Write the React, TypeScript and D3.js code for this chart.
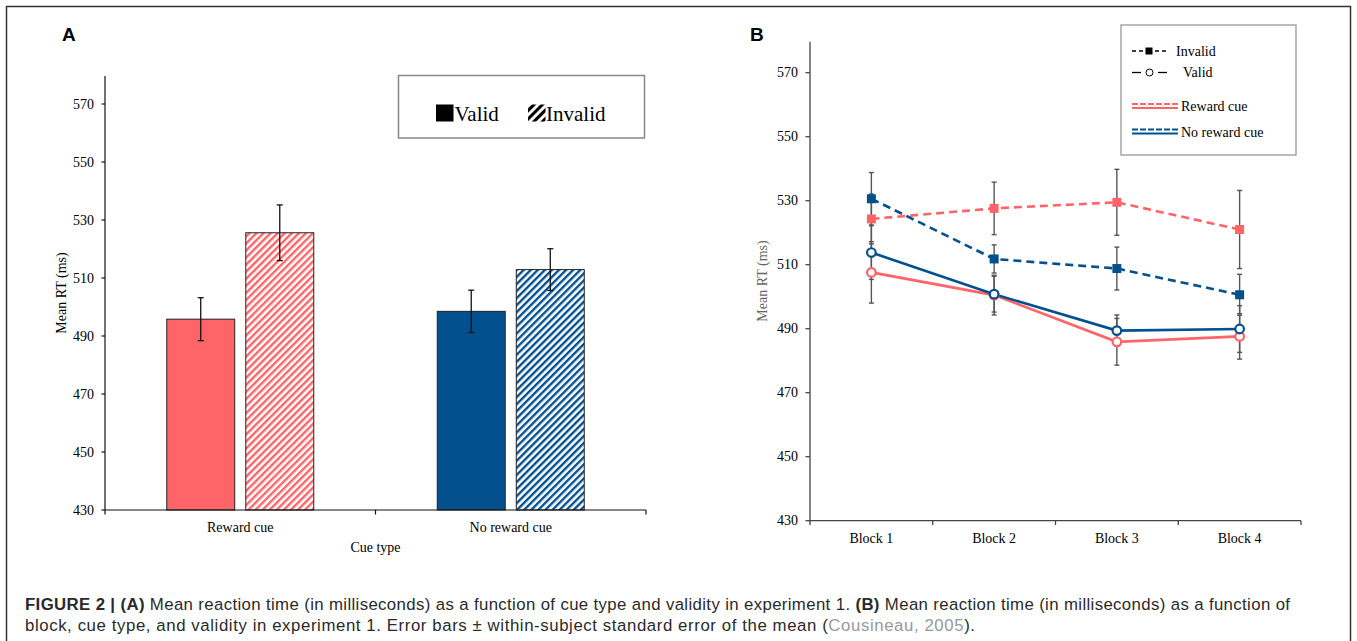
import React from "react";
import * as d3 from "d3";

// ---------- Panel A data ----------
const cueTypes = ["Reward cue", "No reward cue"];
const validity = ["Valid", "Invalid"];
const validMeans = [495.8, 498.5];
const validErr = [7.4, 7.3];
const invalidMeans = [525.6, 512.9];
const invalidErr = [9.6, 7.2];
const yTicksA = [430, 450, 470, 490, 510, 530, 550, 570];

// ---------- Panel B data ----------
const blocks = ["Block 1", "Block 2", "Block 3", "Block 4"];
const rewardInvalid = [524.3, 527.6, 529.5, 521.0];
const rewardInvalidErr = [7.8, 8.2, 10.3, 12.2];
const rewardValid = [507.6, 500.5, 485.9, 487.6];
const rewardValidErr = [9.6, 6.2, 7.3, 7.1];
const noRewardInvalid = [530.6, 511.8, 508.8, 500.6];
const noRewardInvalidErr = [8.2, 4.4, 6.7, 6.4];
const noRewardValid = [513.8, 500.8, 489.4, 489.9];
const noRewardValidErr = [8.4, 5.6, 4.9, 7.3];
const yTicksB = [430, 450, 470, 490, 510, 530, 550, 570];

const PINK = "#FF6469";
const BLUE = "#03508F";
const SERIF = "'Liberation Serif', 'Times New Roman', serif";
const SANS = "'Liberation Sans', Arial, sans-serif";

export default function App() {
  // Panel A scales
  const xA = d3.scaleBand<string>().domain(cueTypes).range([105, 646]);
  const xAin = d3
    .scaleBand<string>()
    .domain(validity)
    .range([(xA.bandwidth() - 147) / 2, (xA.bandwidth() + 147) / 2])
    .paddingInner(0.14);
  const yA = d3.scaleLinear().domain([430, 580]).range([510, 75]);

  // Panel B scales
  const xB = d3.scaleBand<string>().domain(blocks).range([810, 1301]);
  const cx = (b: string) => (xB(b) as number) + xB.bandwidth() / 2;
  const yB = d3.scaleLinear().domain([430, 580]).range([520.7, 40.7]);

  const lineGen = d3
    .line<number>()
    .x((_, i) => cx(blocks[i]))
    .y((d) => yB(d));

  const seriesB = [
    { vals: rewardInvalid, err: rewardInvalidErr, color: PINK, dashed: true },
    { vals: noRewardInvalid, err: noRewardInvalidErr, color: BLUE, dashed: true },
    { vals: rewardValid, err: rewardValidErr, color: PINK, dashed: false },
    { vals: noRewardValid, err: noRewardValidErr, color: BLUE, dashed: false },
  ];

  const barsA = cueTypes.flatMap((c, i) => [
    { cue: c, v: "Valid", mean: validMeans[i], err: validErr[i], color: i === 0 ? PINK : BLUE },
    { cue: c, v: "Invalid", mean: invalidMeans[i], err: invalidErr[i], color: i === 0 ? PINK : BLUE },
  ]);

  const xBoundsA = [...cueTypes.map((c) => xA(c) as number), 646];
  const xBoundsB = [...blocks.map((b) => xB(b) as number), 1301];

  return (
    <svg
      width={1357}
      height={641}
      style={{ position: "absolute", left: 0, top: 0, background: "#fff" }}
    >
      <defs>
        <pattern id="hatchPink" patternUnits="userSpaceOnUse" width={5} height={5} patternTransform="rotate(45)">
          <rect width={5} height={5} fill="#fff" />
          <line x1={1.2} y1={0} x2={1.2} y2={5} stroke={PINK} strokeWidth={2.4} />
        </pattern>
        <pattern id="hatchBlue" patternUnits="userSpaceOnUse" width={5} height={5} patternTransform="rotate(45)">
          <rect width={5} height={5} fill="#fff" />
          <line x1={1.2} y1={0} x2={1.2} y2={5} stroke={BLUE} strokeWidth={2.4} />
        </pattern>
        <pattern id="hatchBlack" patternUnits="userSpaceOnUse" width={6} height={6} patternTransform="rotate(45)">
          <rect width={6} height={6} fill="#fff" />
          <line x1={1.5} y1={0} x2={1.5} y2={6} stroke="#000" strokeWidth={3.2} />
        </pattern>
      </defs>

      {/* outer frame */}
      <rect x={6.5} y={6.5} width={1344} height={660} fill="none" stroke="#333" strokeWidth={1.5} />

      {/* ================= Panel A ================= */}
      <text x={62} y={41} fontFamily={SANS} fontWeight="bold" fontSize={19}>A</text>

      {/* bars */}
      {barsA.map((b, i) => {
        const x = (xA(b.cue) as number) + (xAin(b.v) as number);
        const w = xAin.bandwidth();
        const fill =
          b.v === "Valid" ? b.color : b.color === PINK ? "url(#hatchPink)" : "url(#hatchBlue)";
        return (
          <g key={i}>
            <rect x={x} y={yA(b.mean)} width={w} height={yA(430) - yA(b.mean)} fill={fill} stroke="#222" strokeWidth={1} />
            <line x1={x + w / 2} x2={x + w / 2} y1={yA(b.mean + b.err)} y2={yA(b.mean - b.err)} stroke="#111" strokeWidth={1.3} />
            <line x1={x + w / 2 - 3} x2={x + w / 2 + 3} y1={yA(b.mean + b.err)} y2={yA(b.mean + b.err)} stroke="#111" strokeWidth={1.3} />
            <line x1={x + w / 2 - 3} x2={x + w / 2 + 3} y1={yA(b.mean - b.err)} y2={yA(b.mean - b.err)} stroke="#111" strokeWidth={1.3} />
          </g>
        );
      })}

      {/* axes A */}
      <line x1={105} x2={105} y1={76} y2={510} stroke="#111" strokeWidth={1.2} />
      <line x1={105} x2={646} y1={510} y2={510} stroke="#111" strokeWidth={1.2} />
      {yTicksA.map((t) => (
        <g key={t}>
          <line x1={101.5} x2={105} y1={yA(t)} y2={yA(t)} stroke="#111" strokeWidth={1.2} />
          <text x={94} y={yA(t) + 4.5} textAnchor="end" fontFamily={SERIF} fontSize={14}>{t}</text>
        </g>
      ))}
      {xBoundsA.map((x, i) => (
        <line key={i} x1={x} x2={x} y1={510} y2={514.5} stroke="#111" strokeWidth={1.2} />
      ))}
      {cueTypes.map((c) => (
        <text key={c} x={(xA(c) as number) + xA.bandwidth() / 2} y={531.5} textAnchor="middle" fontFamily={SERIF} fontSize={14}>{c}</text>
      ))}
      <text x={375.5} y={551.5} textAnchor="middle" fontFamily={SERIF} fontSize={14}>Cue type</text>
      <text transform="translate(66,293) rotate(-90)" textAnchor="middle" fontFamily={SERIF} fontSize={14}>Mean RT (ms)</text>

      {/* legend A */}
      <rect x={398.5} y={75.5} width={246} height={62.5} fill="#fff" stroke="#888" strokeWidth={1.5} />
      <rect x={436} y={104.5} width={17.5} height={17} fill="#000" />
      <text x={454.5} y={121} fontFamily={SERIF} fontSize={21}>Valid</text>
      <rect x={528} y={104.5} width={17.5} height={17} fill="url(#hatchBlack)" />
      <text x={546} y={121} fontFamily={SERIF} fontSize={21}>Invalid</text>

      {/* ================= Panel B ================= */}
      <text x={750} y={41} fontFamily={SANS} fontWeight="bold" fontSize={19}>B</text>

      {/* axes B */}
      <line x1={810} x2={810} y1={41.7} y2={520.7} stroke="#444" strokeWidth={1.3} />
      <line x1={810} x2={1301} y1={520.7} y2={520.7} stroke="#444" strokeWidth={1.3} />
      {yTicksB.map((t) => (
        <g key={t}>
          <line x1={805.5} x2={810} y1={yB(t)} y2={yB(t)} stroke="#444" strokeWidth={1.3} />
          <text x={798} y={yB(t) + 4.5} textAnchor="end" fontFamily={SERIF} fontSize={14}>{t}</text>
        </g>
      ))}
      {xBoundsB.map((x, i) => (
        <line key={i} x1={x} x2={x} y1={520.7} y2={525} stroke="#444" strokeWidth={1.3} />
      ))}
      {blocks.map((b) => (
        <text key={b} x={cx(b)} y={543} textAnchor="middle" fontFamily={SERIF} fontSize={14}>{b}</text>
      ))}
      <text transform="translate(767,281) rotate(-90)" textAnchor="middle" fontFamily={SERIF} fontSize={14} fill="#666">Mean RT (ms)</text>

      {/* error bars B */}
      {seriesB.map((s, si) =>
        s.vals.map((v, i) => {
          const x = cx(blocks[i]);
          const t = yB(v + s.err[i]);
          const btm = yB(v - s.err[i]);
          return (
            <g key={`e${si}-${i}`} stroke="#555" strokeWidth={1.4}>
              <line x1={x} x2={x} y1={t} y2={btm} />
              <line x1={x - 2.5} x2={x + 2.5} y1={t} y2={t} />
              <line x1={x - 2.5} x2={x + 2.5} y1={btm} y2={btm} />
            </g>
          );
        })
      )}

      {/* lines B */}
      {seriesB.map((s, si) => (
        <path
          key={`l${si}`}
          d={lineGen(s.vals) as string}
          fill="none"
          stroke={s.color}
          strokeWidth={2.6}
          strokeDasharray={s.dashed ? "8,5" : undefined}
        />
      ))}

      {/* markers B */}
      {seriesB.map((s, si) =>
        s.vals.map((v, i) =>
          s.dashed ? (
            <rect key={`m${si}-${i}`} x={cx(blocks[i]) - 4.5} y={yB(v) - 4.5} width={9} height={9} fill={s.color} />
          ) : (
            <circle key={`m${si}-${i}`} cx={cx(blocks[i])} cy={yB(v)} r={4.3} fill="#fff" stroke={s.color} strokeWidth={2.2} />
          )
        )
      )}

      {/* legend B */}
      <rect x={1121} y={25} width={175} height={130} fill="#fff" stroke="#999" strokeWidth={1.3} />
      <line x1={1132} x2={1145} y1={51} y2={51} stroke="#000" strokeWidth={1.3} strokeDasharray="4,3" />
      <rect x={1145.5} y={47.5} width={7} height={7} fill="#000" />
      <line x1={1155} x2={1168} y1={51} y2={51} stroke="#000" strokeWidth={1.3} strokeDasharray="4,3" />
      <text x={1176} y={55.5} fontFamily={SERIF} fontSize={14}>Invalid</text>

      <line x1={1132} x2={1141} y1={72.5} y2={72.5} stroke="#000" strokeWidth={1.3} />
      <circle cx={1149.5} cy={72.5} r={3.5} fill="#fff" stroke="#000" strokeWidth={1} />
      <line x1={1158} x2={1167} y1={72.5} y2={72.5} stroke="#000" strokeWidth={1.3} />
      <text x={1183} y={77} fontFamily={SERIF} fontSize={14}>Valid</text>

      <line x1={1132} x2={1178} y1={104} y2={104} stroke={PINK} strokeWidth={2} strokeDasharray="6,2" />
      <line x1={1132} x2={1178} y1={108} y2={108} stroke={PINK} strokeWidth={2} />
      <text x={1181} y={111} fontFamily={SERIF} fontSize={14}>Reward cue</text>

      <line x1={1132} x2={1178} y1={129.5} y2={129.5} stroke={BLUE} strokeWidth={2} strokeDasharray="6,2" />
      <line x1={1132} x2={1178} y1={133.5} y2={133.5} stroke={BLUE} strokeWidth={2} />
      <text x={1181} y={136.5} fontFamily={SERIF} fontSize={14}>No reward cue</text>

      {/* caption */}
      <text x={25} y={610} fontFamily={SANS} fontSize={16.8} fill="#2a2a2a" textLength={1265} lengthAdjust="spacing">
        <tspan fontWeight="bold">FIGURE 2 | (A)</tspan>
        <tspan> Mean reaction time (in milliseconds) as a function of cue type and validity in experiment 1. </tspan>
        <tspan fontWeight="bold">(B)</tspan>
        <tspan> Mean reaction time (in milliseconds) as a function of</tspan>
      </text>
      <text x={25} y={631} fontFamily={SANS} fontSize={16.8} fill="#2a2a2a" textLength={950} lengthAdjust="spacing">
        <tspan>block, cue type, and validity in experiment 1. Error bars ± within-subject standard error of the mean (</tspan>
        <tspan fill="#999">Cousineau, 2005</tspan>
        <tspan>).</tspan>
      </text>
    </svg>
  );
}
